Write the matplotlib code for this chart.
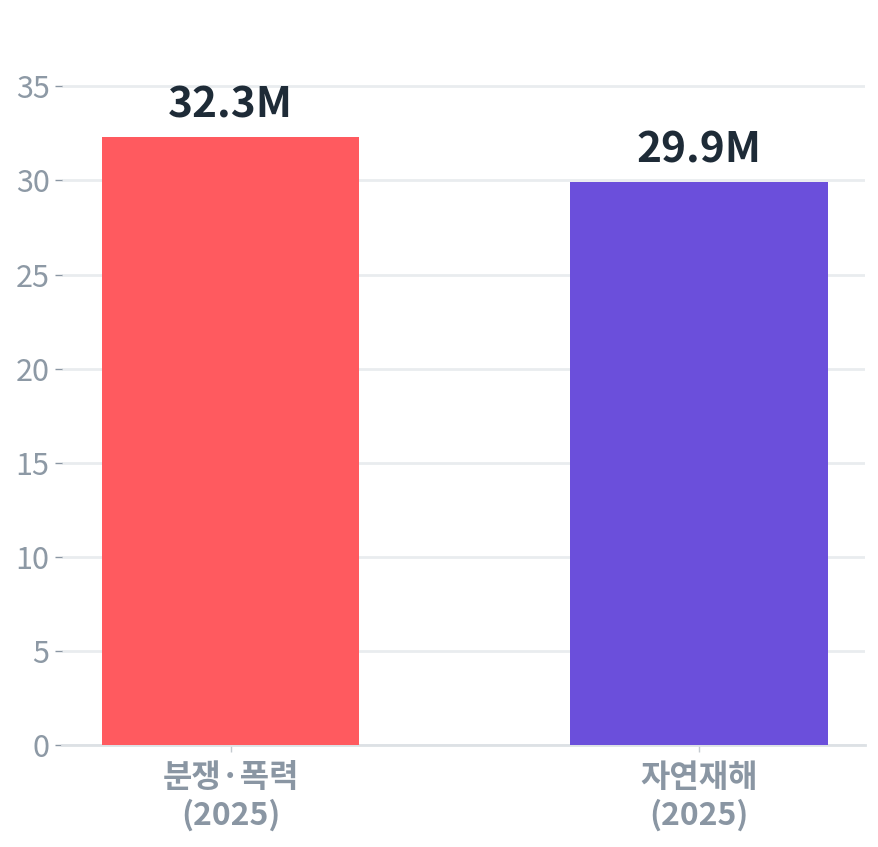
import matplotlib
matplotlib.use("Agg")
import matplotlib.pyplot as plt

categories = ["분쟁·폭력\n(2025)", "자연재해\n(2025)"]
values = [32.3, 29.9]
value_labels = ["32.3M", "29.9M"]
colors = ["#FF5A5F", "#6B4FDB"]
yticks = [0, 5, 10, 15, 20, 25, 30, 35]

plt.rcParams['font.family'] = ['Noto Sans CJK KR', 'DejaVu Sans']

fig = plt.figure(figsize=(8.79, 8.47), dpi=100)
ax = fig.add_axes([62/879, 1-745/847, (865-62)/879, (745-45)/847])

x = list(range(len(categories)))
bars = ax.bar(x, values, width=0.55, color=colors, zorder=3)
for b, lab in zip(bars, value_labels):
    ax.annotate(lab, (b.get_x() + b.get_width()/2, b.get_height()),
                xytext=(0, 8), textcoords="offset points",
                ha="center", va="bottom", fontsize=30.5, fontweight="bold",
                color="#1E2B37")

ax.set_xlim(-0.36, 1.355)
ax.set_ylim(0, 37.2)
ax.set_yticks(yticks)
ax.set_yticklabels([str(t) for t in yticks])
ax.set_xticks(x)
ax.set_xticklabels(categories, fontsize=23, fontweight="bold", color="#8A96A3",
                   linespacing=1.2)

ax.grid(axis="y", color="#E9ECEF", linewidth=2, zorder=0)
ax.set_axisbelow(True)
for s in ["top", "right", "left"]:
    ax.spines[s].set_visible(False)
ax.spines["bottom"].set_color("#DDE1E5")
ax.spines["bottom"].set_linewidth(2)
ax.tick_params(axis="y", length=5, width=1, color="#8A96A3", labelsize=22,
               labelcolor="#8D99A5", pad=4)
ax.tick_params(axis="x", length=5, width=1, color="#C4CAD0", pad=7)

fig.savefig("out.png", dpi=100)
